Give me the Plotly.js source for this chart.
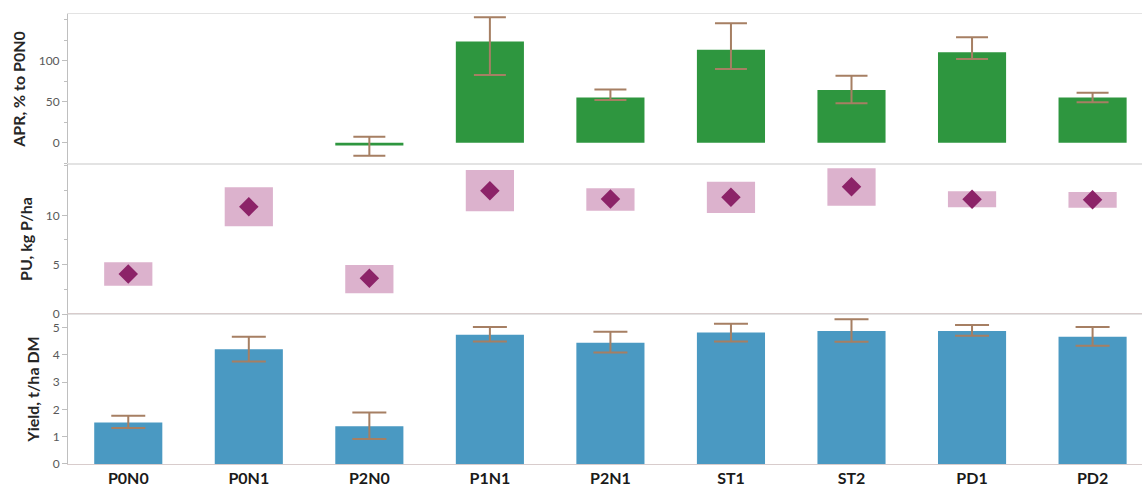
<!DOCTYPE html>
<html>
<head>
<meta charset="utf-8">
<script src="https://cdn.plot.ly/plotly-3.0.1.min.js"></script>
<style>
html,body{margin:0;padding:0;background:#fff;}
#chart{width:1142px;height:486px;}
</style>
</head>
<body>
<div id="chart"></div>
<script>
// ---- data ----
const categories = ['P0N0','P0N1','P2N0','P1N1','P2N1','ST1','ST2','PD1','PD2'];

// APR, % to P0N0 (top panel)
const aprMean      = [null, null, -3.5, 123.5, 55, 113.4, 64.3, 110.2, 55];
const aprErrPlus   = [null, null, 10.8, 29.5, 10, 32.2, 17.4, 18.3, 6];
const aprErrMinus  = [null, null, 12.4, 41, 3, 23.5, 16.3, 8.2, 5.6];

// PU, kg P/ha (middle panel): range box and mean
const puLow  = [2.87, 8.89, 2.10, 10.40, 10.47, 10.23, 10.97, 10.81, 10.77];
const puHigh = [5.24, 12.84, 4.96, 14.59, 12.74, 13.40, 14.76, 12.43, 12.36];
const puMean = [4.05, 10.87, 3.62, 12.50, 11.65, 11.82, 12.90, 11.62, 11.58];

// Yield, t/ha DM (bottom panel)
const yieldMean     = [1.52, 4.21, 1.38, 4.74, 4.45, 4.82, 4.88, 4.88, 4.67];
const yieldErrPlus  = [0.25, 0.46, 0.51, 0.28, 0.40, 0.32, 0.43, 0.22, 0.35];
const yieldErrMinus = [0.20, 0.45, 0.46, 0.25, 0.36, 0.33, 0.40, 0.18, 0.33];

// ---- styling ----
const errColor = '#a67f63';
const green = '#2e963f';
const blue = '#4a99c2';
const pink = '#dcb2cd';
const purple = '#8c2368';
const tickFont = {family: 'Lato, "Liberation Sans", sans-serif', size: 12, color: '#595959'};
const titleFont = {family: 'Lato, "Liberation Sans", sans-serif', size: 16, color: '#262626', weight: 'bold'};

const traces = [
  {
    type: 'bar', x: categories, y: aprMean, xaxis: 'x', yaxis: 'y',
    marker: {color: green}, width: 0.565,
    error_y: {type: 'data', symmetric: false, array: aprErrPlus, arrayminus: aprErrMinus,
              color: errColor, thickness: 2, width: 16},
    hoverinfo: 'x+y'
  },
  {
    type: 'bar', x: categories, y: puHigh.map((h, i) => h - puLow[i]), base: puLow,
    xaxis: 'x2', yaxis: 'y2', marker: {color: pink}, width: 0.4, hoverinfo: 'x'
  },
  {
    type: 'scatter', mode: 'markers', x: categories, y: puMean, xaxis: 'x2', yaxis: 'y2',
    marker: {symbol: 'diamond', size: 15, color: purple}
  },
  {
    type: 'bar', x: categories, y: yieldMean, xaxis: 'x3', yaxis: 'y3',
    marker: {color: blue}, width: 0.565,
    error_y: {type: 'data', symmetric: false, array: yieldErrPlus, arrayminus: yieldErrMinus,
              color: errColor, thickness: 2, width: 17}
  }
];

const xBase = {
  type: 'category', range: [-0.5, 8.41], showline: true, mirror: true,
  linecolor: '#e3e3e3', linewidth: 1, showgrid: false, zeroline: false, ticks: '',
  fixedrange: true
};
const yBase = {
  showline: true, linecolor: '#bfbfbf', linewidth: 1, showgrid: false, zeroline: false,
  ticks: 'outside', ticklen: 5, tickcolor: '#bfbfbf', tickfont: tickFont, fixedrange: true
};

const layout = {
  width: 1142, height: 486,
  margin: {l: 68, r: 0, t: 14, b: 22},
  paper_bgcolor: '#ffffff', plot_bgcolor: '#ffffff',
  showlegend: false, barmode: 'overlay',
  xaxis: Object.assign({}, xBase, {domain: [0, 1], anchor: 'y', showticklabels: false}),
  xaxis2: Object.assign({}, xBase, {domain: [0, 1], anchor: 'y2', showticklabels: false, matches: 'x'}),
  xaxis3: Object.assign({}, xBase, {domain: [0, 1], anchor: 'y3', showticklabels: true, matches: 'x',
    linecolor: '#d8cccc',
    tickfont: {family: 'Lato, "Liberation Sans", sans-serif', size: 16, color: '#1a1a1a', weight: 'bold'}}),
  yaxis: Object.assign({}, yBase, {domain: [0.6667, 1], anchor: 'x', range: [-26, 157],
    tickvals: [0, 50, 100], minor: {ticks: 'outside', ticklen: 3, tickcolor: '#bfbfbf', dtick: 25, tick0: 0},
    title: {text: 'APR, % to P0N0', font: titleFont, standoff: 9}}),
  yaxis2: Object.assign({}, yBase, {domain: [0.3333, 0.6667], anchor: 'x2', range: [0, 15.2],
    tickvals: [0, 5, 10], minor: {ticks: 'outside', ticklen: 3, tickcolor: '#bfbfbf', dtick: 2.5, tick0: 0},
    title: {text: 'PU, kg P/ha', font: titleFont, standoff: 9}}),
  yaxis3: Object.assign({}, yBase, {domain: [0, 0.3333], anchor: 'x3', range: [0, 5.5],
    tickvals: [0, 1, 2, 3, 4, 5],
    title: {text: 'Yield, t/ha DM', font: titleFont, standoff: 9}})
};

Plotly.newPlot('chart', traces, layout, {displayModeBar: false, staticPlot: true});
</script>
</body>
</html>
